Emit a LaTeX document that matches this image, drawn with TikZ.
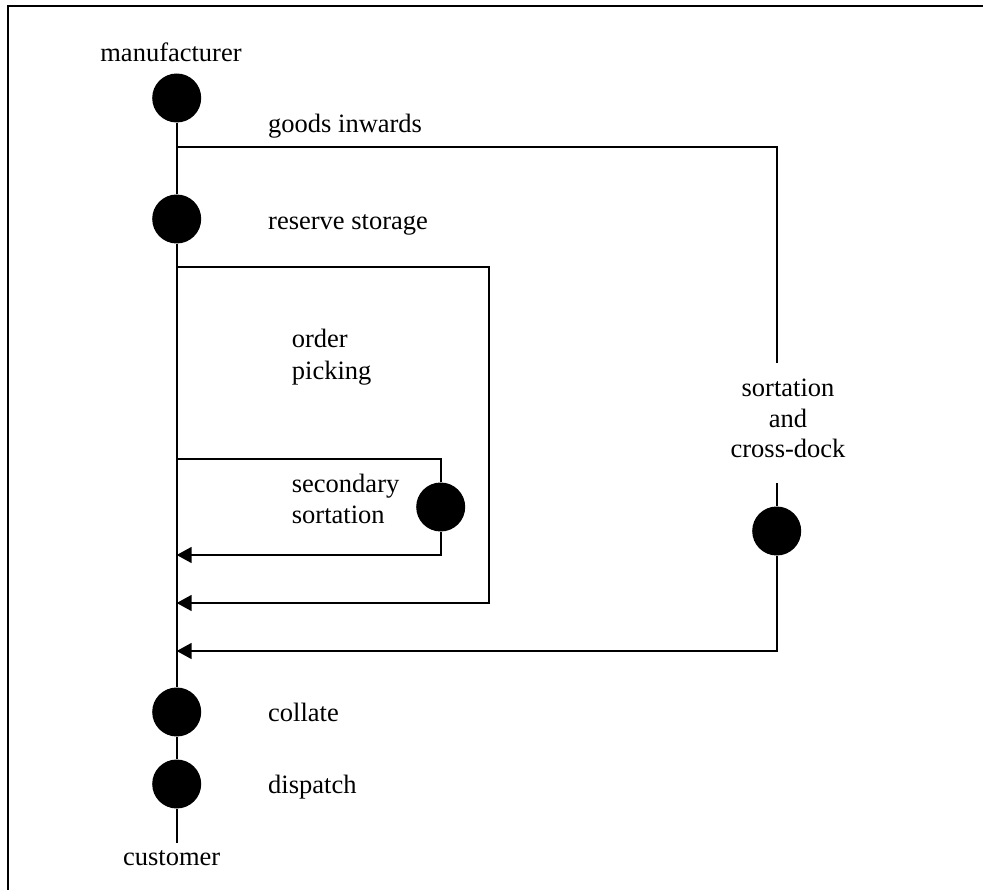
\documentclass[tikz,border=0pt]{standalone}
\usepackage{fontspec}
\setmainfont{Liberation Serif}
\usetikzlibrary{arrows.meta}
\begin{document}
\begin{tikzpicture}[x=1pt,y=-1pt,
  flow/.style={line width=1.8pt},
  ret/.style={line width=1.8pt,-{Triangle[length=15pt,width=16pt]}},
  dot/.style={circle,fill=black,draw=none,minimum size=49pt,inner sep=0pt},
  lbl/.style={inner sep=0pt,font=\fontsize{26.5}{31}\selectfont}]
\useasboundingbox (0,0) rectangle (983,890);
% frame (only top and left edges are visible)
\coordinate (fbl) at (8.3,890);
\coordinate (ftl) at (8.3,6);
\coordinate (ftr) at (983,6);
\draw[line width=2pt] (fbl) -- (ftl) -- (ftr);
% stations
\node[dot] (mfr) at (176.7,98) {};
\node[dot] (res) at (176.7,219) {};
\node[dot] (coll) at (176.7,712) {};
\node[dot] (disp) at (176.7,784) {};
\node[dot] (sec) at (440.7,507) {};
\node[dot] (xd) at (776.7,531) {};
% coordinates
\coordinate (cust) at (176.7,843);
\coordinate (gi) at (176.7,147);
\coordinate (giR) at (776.7,147);
\coordinate (giE) at (776.7,363);
\coordinate (xdS) at (776.7,483);
\coordinate (xdB) at (776.7,651);
\coordinate (xdT) at (176.7,651);
\coordinate (rs) at (176.7,267);
\coordinate (rsR) at (489,267);
\coordinate (rsB) at (489,603);
\coordinate (rsT) at (176.7,603);
\coordinate (ss) at (176.7,459);
\coordinate (ssR) at (440.7,459);
\coordinate (ssB) at (440.7,555);
\coordinate (ssT) at (176.7,555);
% main spine
\draw[flow] (mfr) -- (res) -- (coll) -- (disp) -- (cust);
% goods inwards / sortation and cross-dock
\draw[flow] (gi) -- (giR) -- (giE);
\draw[flow] (xdS) -- (xd);
\draw[ret] (xd) -- (xdB) -- (xdT);
% order picking loop
\draw[ret] (rs) -- (rsR) -- (rsB) -- (rsT);
% secondary sortation loop
\draw[flow] (ss) -- (ssR) -- (sec);
\draw[ret] (sec) -- (ssB) -- (ssT);
% labels
\node[lbl,anchor=base] (tmfr) at (171,62) {manufacturer};
\node[lbl,anchor=base west] (tgi) at (268,133) {goods inwards};
\node[lbl,anchor=base west] (tres) at (268,230) {reserve storage};
\node[lbl,anchor=base west] (top1) at (291.7,348) {order};
\node[lbl,anchor=base west] (top2) at (291.7,380) {picking};
\node[lbl,anchor=base west] (tss1) at (291.7,493) {secondary};
\node[lbl,anchor=base west] (tss2) at (291.7,523) {sortation};
\node[lbl,anchor=base] (txd1) at (788,396.7) {sortation};
\node[lbl,anchor=base] (txd2) at (788,427.7) {and};
\node[lbl,anchor=base] (txd3) at (788,458) {cross-dock};
\node[lbl,anchor=base west] (tcoll) at (268,721.7) {collate};
\node[lbl,anchor=base west] (tdisp) at (268,793) {dispatch};
\node[lbl,anchor=base] (tcust) at (171.7,865) {customer};
\end{tikzpicture}
\end{document}
